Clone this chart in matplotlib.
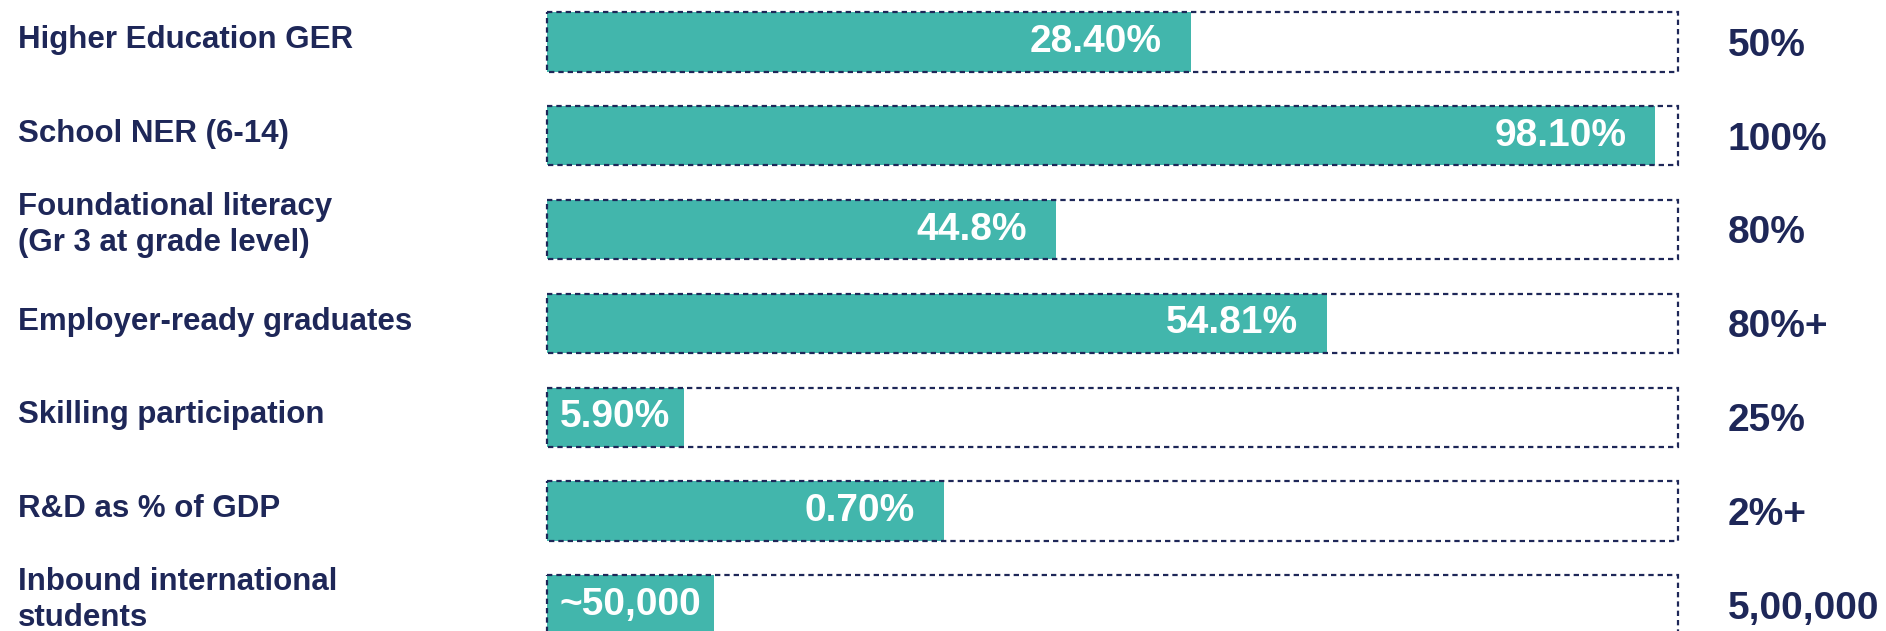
import matplotlib.pyplot as plt
import matplotlib.transforms as mtransforms

# rows of the scorecard, top to bottom
labels = ["Higher Education GER", "School NER (6-14)",
          "Foundational literacy\n(Gr 3 at grade level)", "Employer-ready graduates",
          "Skilling participation", "R&D as % of GDP",
          "Inbound international\nstudents"]
current = ["28.40%", "98.10%", "44.8%", "54.81%", "5.90%", "0.70%", "~50,000"]
target = ["50%", "100%", "80%", "80%+", "25%", "2%+", "5,00,000"]
# share of the target box that is filled
fill = [0.569, 0.980, 0.450, 0.690, 0.121, 0.351, 0.148]

teal = "#42b6ac"
navy = "#1e2758"

W, H = 1886, 631
fig = plt.figure(figsize=(W / 100, H / 100), dpi=100)
box_left, box_right = 547, 1678
row0, step = 42, 93.8
ax = fig.add_axes([box_left / W, 0, (box_right - box_left) / W, 1])
ax.set_xlim(0, 1)
ax.set_ylim((H - row0) / step, -row0 / step)
ax.axis("off")

rows = list(range(len(labels)))
bh = 0.63
ax.barh(rows, fill, height=bh, left=0, color=teal, zorder=2)
boxes = ax.barh(rows, [1] * len(rows), height=bh, left=0, color="none",
                edgecolor=navy, linewidth=1.6, linestyle=(0, (2.4, 1.8)), zorder=3)
for b in boxes:
    b.set_clip_on(False)

tr = mtransforms.blended_transform_factory(fig.transFigure, ax.transData)
for i in rows:
    dy = -0.05 if "\n" in labels[i] else -0.02
    ax.text(18 / W, i + dy, labels[i], transform=tr, ha="left", va="center",
            fontsize=22.5, fontweight="bold", color=navy, family="Liberation Sans",
            linespacing=1.25)
    ax.text(1728 / W, i + 0.04, target[i], transform=tr, ha="left", va="center",
            fontsize=28, fontweight="bold", color=navy, family="Liberation Sans")
    if fill[i] > 0.2:
        ax.annotate(current[i], (fill[i], i), xytext=(-29, 0), textcoords="offset pixels",
                    ha="right", va="center", fontsize=28, fontweight="bold",
                    color="white", family="Liberation Sans", zorder=4)
    else:
        ax.text(fill[i] / 2, i, current[i], ha="center", va="center", fontsize=28,
                fontweight="bold", color="white", family="Liberation Sans", zorder=4)

fig.savefig("out.png", dpi=100, facecolor="white")
